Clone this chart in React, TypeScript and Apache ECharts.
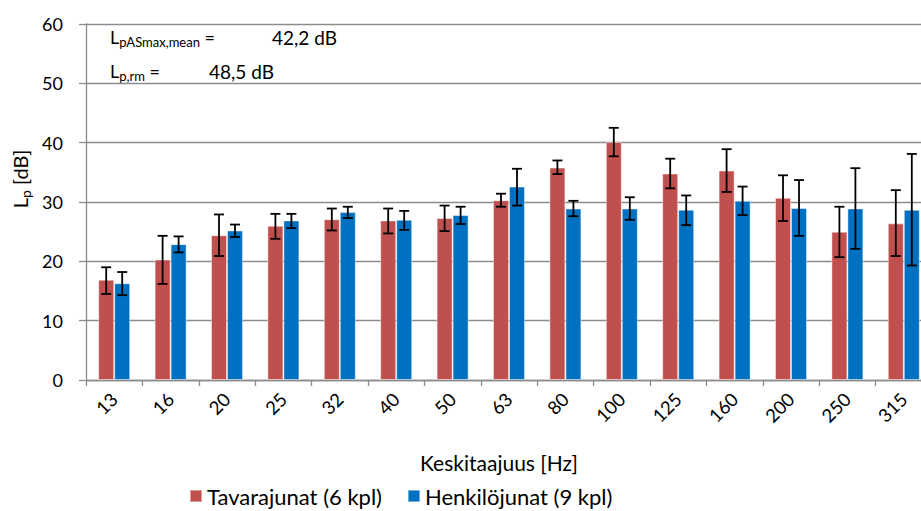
import React, { useEffect, useRef } from "react";
import * as echarts from "echarts";

const categories = ["13", "16", "20", "25", "32", "40", "50", "63", "80", "100", "125", "160", "200", "250", "315"];
const tavaraValues = [16.9, 20.3, 24.4, 26.0, 27.1, 26.9, 27.3, 30.3, 35.8, 40.1, 34.8, 35.3, 30.7, 25.0, 26.4];
const tavaraLow = [14.5, 16.2, 20.9, 23.8, 25.2, 24.7, 25.1, 29.2, 34.7, 37.7, 32.3, 31.7, 26.8, 20.7, 20.9];
const tavaraHigh = [19.0, 24.3, 27.9, 28.0, 28.9, 28.9, 29.4, 31.4, 37.0, 42.5, 37.3, 38.9, 34.5, 29.2, 32.0];
const henkiloValues = [16.3, 22.9, 25.2, 26.9, 28.3, 27.0, 27.8, 32.6, 28.9, 28.9, 28.7, 30.2, 29.0, 28.9, 28.7];
const henkiloLow = [14.3, 21.5, 24.1, 25.6, 27.3, 25.3, 26.3, 29.4, 27.6, 27.0, 26.1, 27.8, 24.3, 22.1, 19.3];
const henkiloHigh = [18.2, 24.2, 26.2, 28.0, 29.2, 28.5, 29.2, 35.6, 30.2, 30.8, 31.1, 32.6, 33.7, 35.7, 38.1];
const yTicks = { min: 0, max: 60, interval: 10 };
const seriesNames = ["Tavarajunat (6 kpl)", "Henkilöjunat (9 kpl)"];
const colors = ["#C0504D", "#0070C0"];

const FONT = "Lato, 'Liberation Sans', sans-serif";

function errorSeries(low: number[], high: number[], offset: number) {
  return {
    type: "custom",
    z: 5,
    silent: true,
    data: low.map((l, i) => [i, l, high[i]]),
    encode: { x: 0, y: [1, 2] },
    renderItem: (params: any, api: any) => {
      const i = api.value(0);
      const lo = api.coord([i, api.value(1)]);
      const hi = api.coord([i, api.value(2)]);
      const x = lo[0] + offset;
      const cap = 5;
      const style = { stroke: "#000", lineWidth: 1.8 };
      return {
        type: "group",
        children: [
          { type: "line", shape: { x1: x, y1: lo[1], x2: x, y2: hi[1] }, style },
          { type: "line", shape: { x1: x - cap, y1: lo[1], x2: x + cap, y2: lo[1] }, style },
          { type: "line", shape: { x1: x - cap, y1: hi[1], x2: x + cap, y2: hi[1] }, style },
        ],
      };
    },
  };
}

export default function App() {
  const ref = useRef<HTMLDivElement>(null);
  useEffect(() => {
    document.body.style.margin = "0";
    if (!ref.current) return;
    const chart = echarts.init(ref.current, null, { renderer: "svg" });
    const sub = { fontSize: 13, fontFamily: FONT, padding: [10, 0, 0, 0], fill: "#000" };
    const main = { fontSize: 18, fontFamily: FONT, fill: "#000" };
    chart.setOption({
      animation: false,
      textStyle: { fontFamily: FONT },
      grid: { left: 86, top: 24, width: 846, height: 356, outerBoundsMode: "none", containLabel: false },
      legend: {
        left: 189,
        top: 485,
        padding: 0,
        itemWidth: 12,
        itemHeight: 12,
        itemGap: 25,
        icon: "rect",
        textStyle: { fontSize: 22, lineHeight: 22, color: "#000", fontFamily: FONT },
        data: seriesNames,
      },
      xAxis: {
        type: "category",
        data: categories,
        axisLine: { lineStyle: { color: "#8c8c8c", width: 1.3 } },
        axisTick: { show: true, length: 6, lineStyle: { color: "#8c8c8c", width: 1.3 } },
        axisLabel: { rotate: 45, fontSize: 18.5, color: "#000", margin: 16, interval: 0, fontFamily: FONT },
      },
      yAxis: {
        type: "value",
        min: yTicks.min,
        max: yTicks.max,
        interval: yTicks.interval,
        axisLine: { show: true, lineStyle: { color: "#8c8c8c", width: 1.3 } },
        axisTick: { show: true, length: 7, lineStyle: { color: "#8c8c8c", width: 1.3 } },
        axisLabel: { fontSize: 18, color: "#000", margin: 23, fontFamily: FONT },
        splitLine: { lineStyle: { color: "#8c8c8c", width: 1.3 } },
      },
      graphic: [
        {
          type: "text",
          x: 20,
          y: 179,
          rotation: Math.PI / 2,
          style: {
            text: "{a|L}{s|p}{a| [dB]}",
            align: "center",
            verticalAlign: "middle",
            rich: { a: { fontSize: 20, fontFamily: FONT, fill: "#000" }, s: { ...sub, fontSize: 14 } },
          },
        },
        {
          type: "text",
          x: 110,
          y: 37,
          style: {
            text: "{a|L}{s|pASmax,mean}{a| =}",
            verticalAlign: "middle",
            rich: { a: main, s: sub },
          },
        },
        { type: "text", x: 272, y: 37, style: { text: "42,2 dB", verticalAlign: "middle", ...main, fontSize: 19 } },
        {
          type: "text",
          x: 110,
          y: 71,
          style: {
            text: "{a|L}{s|p,rm}{a| =}",
            verticalAlign: "middle",
            rich: { a: main, s: sub },
          },
        },
        { type: "text", x: 209, y: 71, style: { text: "48,5 dB", verticalAlign: "middle", ...main, fontSize: 19 } },
        {
          type: "text",
          x: 499,
          y: 462,
          style: { text: "Keskitaajuus [Hz]", align: "center", verticalAlign: "middle", fontSize: 21, fontFamily: FONT, fill: "#000" },
        },
      ],
      series: [
        {
          name: seriesNames[0],
          type: "bar",
          data: tavaraValues,
          barWidth: 16,
          barGap: "0%",
          itemStyle: { color: colors[0], borderColor: "rgba(255,255,255,0.45)", borderWidth: 1 },
        },
        {
          name: seriesNames[1],
          type: "bar",
          data: henkiloValues,
          barWidth: 16,
          barGap: "0%",
          itemStyle: { color: colors[1], borderColor: "rgba(255,255,255,0.45)", borderWidth: 1 },
        },
        errorSeries(tavaraLow, tavaraHigh, -8),
        errorSeries(henkiloLow, henkiloHigh, 8),
      ],
    });
    return () => chart.dispose();
  }, []);
  return <div ref={ref} style={{ width: 921, height: 511 }} />;
}
